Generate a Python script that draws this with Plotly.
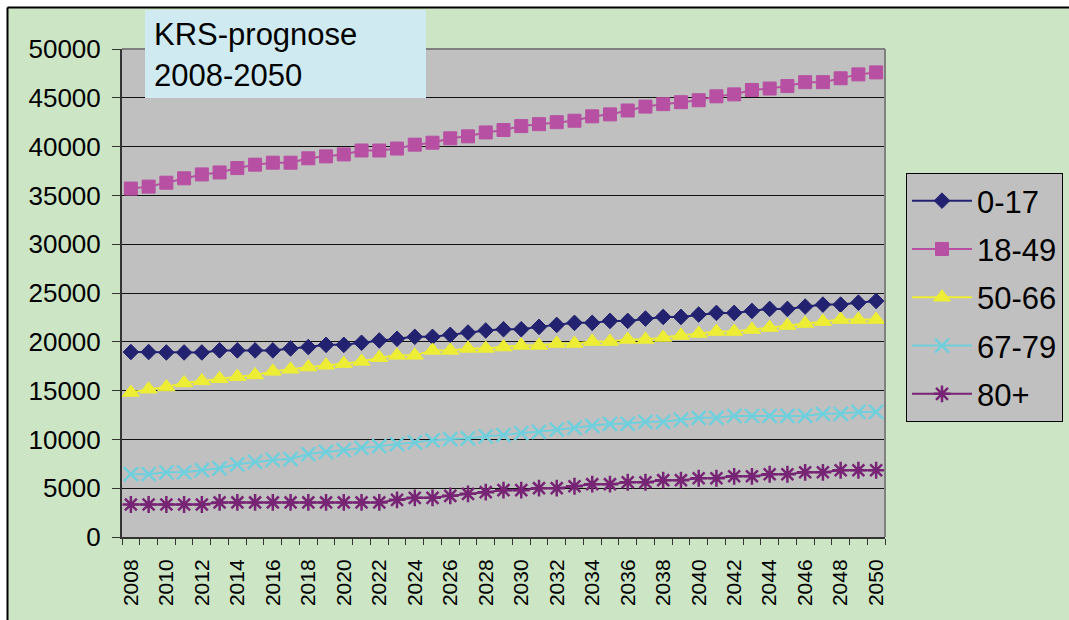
import plotly.graph_objects as go

years = list(range(2008, 2051))

age_0_17 = [18950, 18950, 18910, 18910, 18910, 19120, 19120, 19120, 19120, 19320,
            19460, 19690, 19690, 19900, 20140, 20310, 20510, 20510, 20710, 20950,
            21160, 21290, 21290, 21530, 21730, 21940, 21940, 22140, 22140, 22380,
            22550, 22550, 22790, 22960, 22960, 23160, 23370, 23370, 23610, 23810,
            23810, 24010, 24180]

age_18_49 = [35700, 35900, 36300, 36750, 37150, 37350, 37800, 38150, 38350, 38350,
             38800, 39000, 39200, 39600, 39600, 39800, 40200, 40400, 40850, 41050,
             41450, 41700, 42100, 42300, 42500, 42650, 43100, 43300, 43700, 44100,
             44350, 44550, 44750, 45150, 45350, 45800, 45950, 46200, 46600, 46600,
             47000, 47400, 47600]

age_50_66 = [14800, 15140, 15370, 15780, 15990, 16220, 16430, 16600, 16970, 17180,
             17410, 17590, 17760, 17990, 18370, 18610, 18610, 19120, 19120, 19320,
             19320, 19460, 19630, 19630, 19830, 19830, 20030, 20030, 20240, 20240,
             20440, 20650, 20850, 21050, 21050, 21260, 21460, 21670, 21870, 22070,
             22280, 22280, 22280]

age_67_79 = [6430, 6430, 6630, 6630, 6840, 7040, 7450, 7690, 7890, 7990,
             8500, 8710, 8910, 9120, 9320, 9520, 9690, 9900, 10030, 10100,
             10310, 10440, 10650, 10780, 10990, 11190, 11390, 11600, 11600, 11800,
             11800, 12010, 12210, 12210, 12410, 12410, 12410, 12410, 12410, 12620,
             12620, 12820, 12820]

age_80_plus = [3330, 3330, 3330, 3330, 3330, 3540, 3540, 3540, 3540, 3540,
               3540, 3540, 3540, 3540, 3540, 3810, 4010, 4010, 4220, 4420,
               4590, 4800, 4800, 5000, 5000, 5200, 5410, 5410, 5610, 5610,
               5820, 5820, 6020, 6020, 6220, 6220, 6430, 6430, 6630, 6630,
               6840, 6840, 6840]

series_names = ["0-17", "18-49", "50-66", "67-79", "80+"]
series_values = [age_0_17, age_18_49, age_50_66, age_67_79, age_80_plus]
series_colors = ["#222270", "#B750A2", "#EDED36", "#6FCFDC", "#762473"]
series_symbols = ["diamond", "square", "triangle-up", "x-thin-open", "asterisk-open"]
series_sizes = [12, 13, 15, 14, 14]

y_tickvals = list(range(0, 50001, 5000))
x_tickvals = list(range(2008, 2051, 2))

W, H = 1069, 620


def px(x):
    return x / W


def py(y):
    return 1 - y / H


fig = go.Figure()
for name, vals, col, sym, sz in zip(series_names, series_values, series_colors,
                                    series_symbols, series_sizes):
    open_sym = sym.endswith("open")
    fig.add_trace(go.Scatter(
        x=years, y=vals, name=name, legendgroup=name, mode="lines+markers",
        line=dict(color=col, width=2),
        marker=dict(symbol=sym, size=sz, color=col,
                    line=dict(color=col, width=2.5 if open_sym else 1)),
    ))

fig.update_layout(
    width=W, height=H,
    margin=dict(l=0, r=0, t=0, b=0, autoexpand=False),
    paper_bgcolor="#CCE6C5",
    plot_bgcolor="#C0C0C0",
    font=dict(family="Liberation Sans, Arial, sans-serif", color="black"),
    xaxis=dict(
        domain=[px(122), px(885)],
        range=[2007.5, 2050.5],
        tickmode="array", tickvals=x_tickvals,
        ticktext=[str(v) for v in x_tickvals],
        tickangle=-90, tickfont=dict(size=21),
        ticks="outside", ticklen=6, tickcolor="rgba(0,0,0,0)",
        minor=dict(tick0=2007.5, dtick=1, ticks="outside", ticklen=6,
                   tickcolor="#333333", tickwidth=1, showgrid=False),
        showgrid=False, zeroline=False,
        showline=True, linecolor="#333333", linewidth=2,
        ticklabelstandoff=6,
    ),
    yaxis=dict(
        domain=[py(537), py(49)],
        range=[0, 50000],
        tickmode="array", tickvals=y_tickvals,
        ticktext=[str(v) for v in y_tickvals],
        tickfont=dict(size=26),
        ticks="outside", ticklen=8, tickcolor="#333333", tickwidth=1,
        showgrid=True, gridcolor="#111111", gridwidth=1,
        zeroline=False,
        showline=True, linecolor="#333333", linewidth=2,
        ticklabelstandoff=6,
    ),
    legend=dict(
        x=px(906), y=py(173), xanchor="left", yanchor="top",
        bgcolor="#C0C0C0", bordercolor="black", borderwidth=1,
        font=dict(size=31), itemwidth=60, tracegroupgap=5,
    ),
    shapes=[
        # plot-area top and right borders
        dict(type="line", xref="x domain", yref="y domain", x0=0, x1=1, y0=1, y1=1,
             line=dict(color="#808080", width=2), layer="above"),
        dict(type="line", xref="x domain", yref="y domain", x0=1, x1=1, y0=0, y1=1,
             line=dict(color="#808080", width=2), layer="above"),
        # white margins and chart border
        dict(type="rect", xref="paper", yref="paper", x0=0, x1=px(7), y0=0, y1=1,
             fillcolor="white", line=dict(width=0), layer="above"),
        dict(type="rect", xref="paper", yref="paper", x0=0, x1=1, y0=py(7), y1=1,
             fillcolor="white", line=dict(width=0), layer="above"),
        dict(type="line", xref="paper", yref="paper", x0=px(7.5), x1=px(7.5), y0=0, y1=py(7.5),
             line=dict(color="black", width=2), layer="above"),
        dict(type="line", xref="paper", yref="paper", x0=px(7.5), x1=1, y0=py(7.5), y1=py(7.5),
             line=dict(color="black", width=2), layer="above"),
        # title box
        dict(type="rect", xref="paper", yref="paper", x0=px(145), x1=px(426),
             y0=py(98), y1=py(10), fillcolor="#CFEBF1", line=dict(width=0), layer="above"),
    ],
    annotations=[
        dict(text="KRS-prognose", xref="paper", yref="paper", x=px(152), y=py(35),
             xanchor="left", yanchor="middle", showarrow=False, font=dict(size=31)),
        dict(text="2008-2050", xref="paper", yref="paper", x=px(152), y=py(75),
             xanchor="left", yanchor="middle", showarrow=False, font=dict(size=31)),
    ],
)

fig.write_html(
    "out.html",
    config={"displayModeBar": False},
    post_script="document.body.style.margin='0px';document.body.style.overflow='hidden';",
)
